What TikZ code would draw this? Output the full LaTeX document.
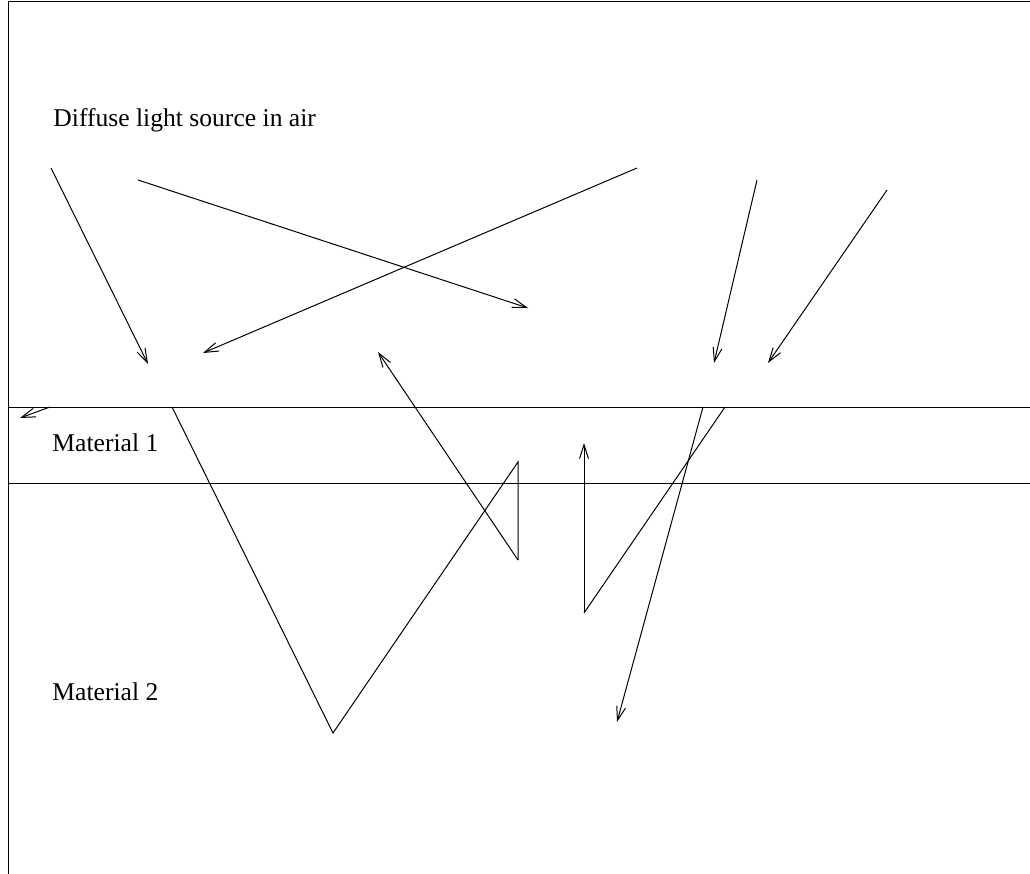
\documentclass[tikz,border=0pt]{standalone}
\usepackage{fontspec}
\setmainfont{Liberation Serif}
\usetikzlibrary{arrows.meta}

\tikzset{
  ray/.style={line width=0.5pt, -{Straight Barb[length=7pt,width=4.5pt]}},
  path/.style={line width=0.5pt},
  label/.style={anchor=base west, inner sep=0pt, font=\fontsize{12.8}{15}\selectfont}
}

\begin{document}
\begin{tikzpicture}[x=0.5pt, y=-0.5pt]
	\useasboundingbox (0,0) rectangle (1030,874);
	
	% Frame and interfaces
	\draw[path] (8,874) -- (8,1) -- (1030,1);
	\draw[path] (8,407) -- (1030,407);
	\draw[path] (8,483) -- (1030,483);
	
	% Labels
	\node[label] (air) at (53,126) {Diffuse light source in air};
	\node[label] (mat1) at (52,451) {Material 1};
	\node[label] (mat2) at (52,700) {Material 2};
	
	% Incoming rays
	\draw[ray] (51,168) -- (148,364);
	\draw[ray] (138,180) -- (528,308);
	\draw[ray] (637,168) -- (203,353);
	\draw[ray] (757,180) -- (714,363);
	\draw[ray] (887,190) -- (768,363);
	
	% Ray bouncing back out through material 1
	\draw[path] (172,407) -- (333,733) -- (518,462) -- (518,560);
	\draw[ray] (518,560) -- (378,352);
	
	% Ray trapped in material 2
	\draw[path] (725,407) -- (584,613);
	\draw[ray] (584,613) -- (584,443);
	
	% Transmitted ray
	\draw[ray] (703,407) -- (617,722);
	
	% Grazing ray
	\draw[ray] (50,407) -- (20,418);
\end{tikzpicture}
\end{document}
